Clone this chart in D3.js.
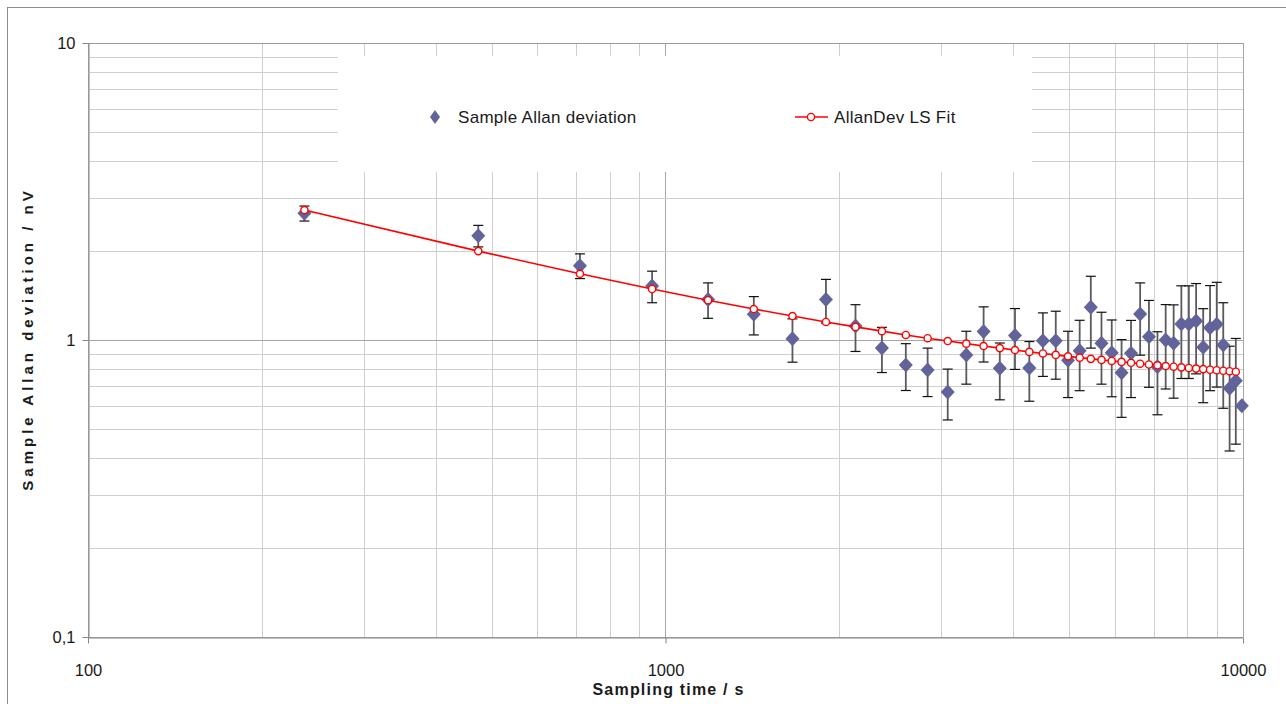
<!DOCTYPE html>
<html>
<head>
<meta charset="utf-8">
<script src="https://cdn.jsdelivr.net/npm/d3@7"></script>
<style>
  body { margin: 0; background: #fff; }
</style>
</head>
<body>
<div id="chart"></div>
<script>
// sampling times (s)
var tau = [237, 474, 711, 948, 1185, 1422, 1659, 1896, 2133, 2370,
  2607, 2844, 3081, 3318, 3555, 3792, 4029, 4266, 4503, 4740,
  4977, 5214, 5451, 5688, 5925, 6162, 6399, 6636, 6873, 7110,
  7347, 7584, 7821, 8058, 8295, 8532, 8769, 9006, 9243, 9480,
  9717, 9954];

// sample Allan deviation (nV)
var adev = [2.67, 2.245, 1.78, 1.52, 1.37, 1.22, 1.01, 1.37, 1.115, 0.94,
  0.824, 0.792, 0.668, 0.89, 1.068, 0.803, 1.036, 0.805, 0.994, 0.994,
  0.855, 0.92, 1.289, 0.975, 0.906, 0.776, 0.902, 1.223, 1.026, 0.813,
  1.0, 0.975, 1.132, 1.132, 1.159, 0.945, 1.10, 1.129, 0.962, 0.688,
  0.729, 0.601];

// error bar half-length (nV), last point has none
var adevErr = [0.155, 0.187, 0.17, 0.185, 0.187, 0.18, 0.168, 0.23, 0.2, 0.163,
  0.148, 0.147, 0.13, 0.18, 0.225, 0.174, 0.24, 0.183, 0.24, 0.256,
  0.215, 0.245, 0.35, 0.265, 0.262, 0.227, 0.262, 0.334, 0.333, 0.253,
  0.316, 0.338, 0.39, 0.39, 0.39, 0.33, 0.425, 0.435, 0.373, 0.265,
  0.283, null];

// least squares fit (first 41 sampling times)
var fitVal = [2.738, 1.992, 1.671, 1.485, 1.361, 1.271, 1.204, 1.150, 1.107, 1.071,
  1.040, 1.014, 0.992, 0.972, 0.954, 0.939, 0.925, 0.912, 0.901, 0.891,
  0.881, 0.872, 0.864, 0.857, 0.850, 0.844, 0.838, 0.832, 0.827, 0.822,
  0.817, 0.813, 0.809, 0.805, 0.801, 0.798, 0.794, 0.791, 0.788, 0.785,
  0.782];

var xTicks = [100, 1000, 10000];
var xTickLabels = ["100", "1000", "10000"];
var yTicks = [0.1, 1, 10];
var yTickLabels = ["0,1", "1", "10"];

var seriesNames = ["Sample Allan deviation", "AllanDev LS Fit"];
var xTitle = "Sampling time / s";
var yTitle = "Sample Allan deviation / nV";

var FONT = "'Liberation Sans', Arial, sans-serif";
var diamondColor = "#63639b";
var fitColor = "#ff0000";

var W = 1286, H = 704;
var plot = { left: 88, right: 1243, top: 43, bottom: 637 };

var svg = d3.select("#chart").append("svg")
  .attr("width", W)
  .attr("height", H)
  .style("font-family", FONT);

// chart area border
svg.append("rect")
  .attr("x", 7.5).attr("y", 7.5)
  .attr("width", W + 20).attr("height", H + 20)
  .attr("fill", "#fff")
  .attr("stroke", "#8c8c8c");

var x = d3.scaleLog().domain([100, 10000]).range([plot.left, plot.right]);
var y = d3.scaleLog().domain([0.1, 10]).range([plot.bottom, plot.top]);

function isMajor(v) { return Math.abs(Math.log10(v) - Math.round(Math.log10(v))) < 1e-9; }

// gridlines
var grid = svg.append("g");
grid.selectAll("line.vx")
  .data(x.ticks())
  .enter().append("line")
  .attr("x1", function(d) { return Math.round(x(d)) + 0.5; })
  .attr("x2", function(d) { return Math.round(x(d)) + 0.5; })
  .attr("y1", plot.top)
  .attr("y2", plot.bottom)
  .attr("stroke", function(d) { return isMajor(d) ? "#a6a6a6" : "#cfcfcf"; });

grid.selectAll("line.hy")
  .data(y.ticks())
  .enter().append("line")
  .attr("y1", function(d) { return Math.round(y(d)) + 0.5; })
  .attr("y2", function(d) { return Math.round(y(d)) + 0.5; })
  .attr("x1", plot.left)
  .attr("x2", plot.right)
  .attr("stroke", function(d) { return isMajor(d) ? "#a6a6a6" : "#cfcfcf"; })
  .attr("stroke-width", function(d) { return isMajor(d) ? 1 : 1.2; });

// top of plot area
svg.append("line")
  .attr("x1", plot.left).attr("x2", plot.right)
  .attr("y1", plot.top + 0.5).attr("y2", plot.top + 0.5)
  .attr("stroke", "#9a9a9a");

// axes
var xAxis = svg.append("g")
  .attr("transform", "translate(0," + (plot.bottom + 0.5) + ")")
  .call(d3.axisBottom(x)
    .tickValues(xTicks)
    .tickFormat(function(d, i) { return xTickLabels[i]; })
    .tickSize(6).tickSizeOuter(0).tickPadding(21));

var yAxis = svg.append("g")
  .attr("transform", "translate(" + (plot.left + 0.5) + ",0)")
  .call(d3.axisLeft(y)
    .tickValues(yTicks)
    .tickFormat(function(d, i) { return yTickLabels[i]; })
    .tickSize(6).tickSizeOuter(0).tickPadding(7));

[xAxis, yAxis].forEach(function(a) {
  a.select(".domain").attr("stroke", "#868686");
  a.selectAll(".tick line").attr("stroke", "#868686");
  a.selectAll(".tick text")
    .style("font-family", FONT)
    .style("font-size", "16.5px")
    .attr("fill", "#1a1a1a");
});

// legend box
svg.append("rect")
  .attr("x", 338).attr("y", 56)
  .attr("width", 694).attr("height", 116)
  .attr("fill", "#fff");

var diamond = "M0,-7.5L7,0L0,7.5L-7,0Z";

// error bars
var pts = tau.map(function(t, i) { return { t: t, v: adev[i], e: adevErr[i] }; });
var bars = svg.append("g");
pts.filter(function(d) { return d.e !== null; }).forEach(function(d) {
  var cx = x(d.t), y1 = y(d.v + d.e), y2 = y(d.v - d.e);
  bars.append("line")
    .attr("x1", cx).attr("x2", cx).attr("y1", y1).attr("y2", y2)
    .attr("stroke", "#5a5a5a").attr("stroke-width", 1.8);
  [y1, y2].forEach(function(yy) {
    bars.append("line")
      .attr("x1", cx - 5).attr("x2", cx + 5).attr("y1", yy).attr("y2", yy)
      .attr("stroke", "#111").attr("stroke-width", 1.2);
  });
});

// diamonds
svg.append("g").selectAll("path")
  .data(pts)
  .enter().append("path")
  .attr("d", diamond)
  .attr("transform", function(d) { return "translate(" + x(d.t) + "," + y(d.v) + ")"; })
  .attr("fill", diamondColor);

// fit line + markers
var fitPts = fitVal.map(function(v, i) { return { t: tau[i], v: v }; });
svg.append("path")
  .datum(fitPts)
  .attr("d", d3.line().x(function(d) { return x(d.t); }).y(function(d) { return y(d.v); }))
  .attr("fill", "none")
  .attr("stroke", fitColor)
  .attr("stroke-width", 1.6);

svg.append("g").selectAll("circle")
  .data(fitPts)
  .enter().append("circle")
  .attr("cx", function(d) { return x(d.t); })
  .attr("cy", function(d) { return y(d.v); })
  .attr("r", 3.6)
  .attr("fill", "#fff")
  .attr("stroke", fitColor)
  .attr("stroke-width", 1.4);

// legend entries
var lg = svg.append("g");
lg.append("path")
  .attr("d", "M0,-7L5,0L0,7L-5,0Z")
  .attr("transform", "translate(435,117)")
  .attr("fill", diamondColor);
lg.append("text")
  .attr("x", 458).attr("y", 117)
  .attr("dy", "0.35em")
  .style("font-size", "17px")
  .style("letter-spacing", "0.3px")
  .attr("fill", "#1a1a1a")
  .text(seriesNames[0]);

lg.append("line")
  .attr("x1", 795).attr("x2", 828).attr("y1", 117).attr("y2", 117)
  .attr("stroke", fitColor).attr("stroke-width", 1.6);
lg.append("circle")
  .attr("cx", 811).attr("cy", 117).attr("r", 3.6)
  .attr("fill", "#fff").attr("stroke", fitColor).attr("stroke-width", 1.4);
lg.append("text")
  .attr("x", 834).attr("y", 117)
  .attr("dy", "0.35em")
  .style("font-size", "17px")
  .style("letter-spacing", "0.3px")
  .attr("fill", "#1a1a1a")
  .text(seriesNames[1]);

// axis titles
svg.append("text")
  .attr("x", (plot.left + plot.right) / 2 + 3)
  .attr("y", 695)
  .attr("text-anchor", "middle")
  .style("font-size", "16px")
  .style("font-weight", "bold")
  .style("letter-spacing", "1.2px")
  .attr("fill", "#1a1a1a")
  .text(xTitle);

svg.append("text")
  .attr("transform", "translate(33,339)rotate(-90)")
  .attr("text-anchor", "middle")
  .style("font-size", "15px")
  .style("font-weight", "bold")
  .style("letter-spacing", "4px")
  .attr("fill", "#1a1a1a")
  .text(yTitle);
</script>
</body>
</html>
